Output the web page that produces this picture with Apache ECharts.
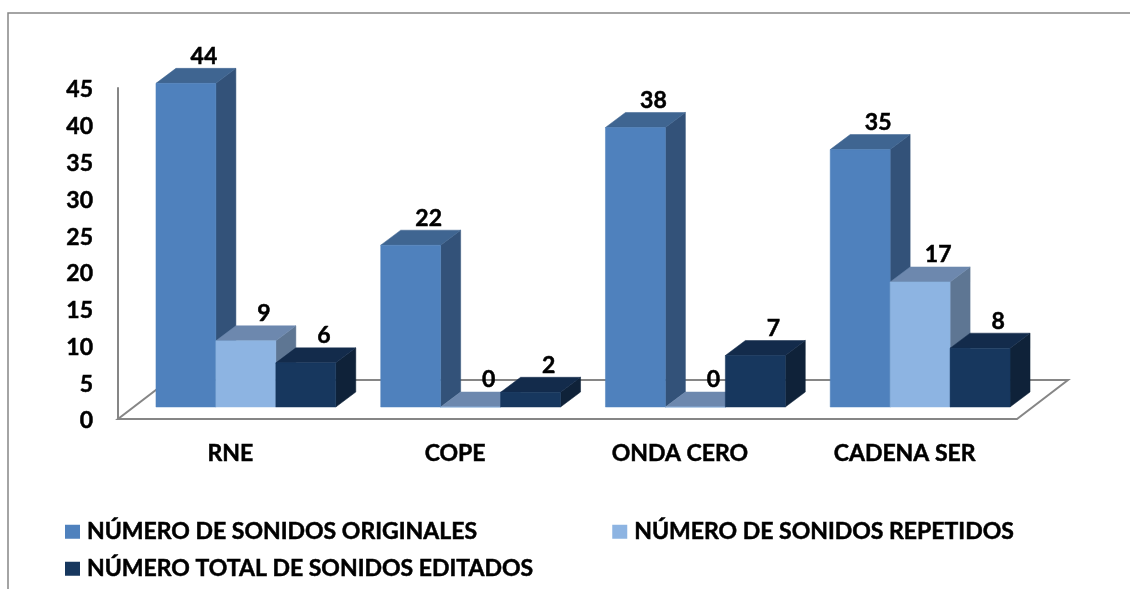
<!DOCTYPE html>
<html>
<head>
<meta charset="utf-8">
<style>
  html, body { margin: 0; padding: 0; background: #fff; }
  #chart { width: 1130px; height: 589px; }
</style>
<script src="https://cdn.jsdelivr.net/npm/echarts@6/dist/echarts.min.js"></script>
</head>
<body>
<div id="chart"></div>
<script>
const categories = ['RNE', 'COPE', 'ONDA CERO', 'CADENA SER']
const yTicks = { min: 0, max: 45, interval: 5 }

const originales = [44, 22, 38, 35]
const repetidos = [9, 0, 0, 17]
const editados = [6, 2, 7, 8]

const seriesNames = [
  'NÚMERO DE SONIDOS ORIGINALES',
  'NÚMERO DE SONIDOS REPETIDOS',
  'NÚMERO TOTAL DE SONIDOS EDITADOS'
]

// front, top, side
const shades = [
  ['#4F81BD', '#3F6591', '#335279'],
  ['#8DB4E2', '#6D88AE', '#5E7693'],
  ['#17375E', '#132B4B', '#0F2239']
]

const font = 'Lato, "Noto Sans", sans-serif'
const grey = '#868686'

// 3d look: bars sit inside the floor, floor goes back from the axis line
const floorDx = 51
const floorDy = 39
const frontDx = 15.5
const frontDy = 12
const depthDx = 20
const depthDy = 15
const barRatio = 0.2667

const poly = (points, fill) => ({
  type: 'polygon',
  shape: { points },
  style: { fill, stroke: fill, lineWidth: 0.5 }
})

const makeBar = (index) => (params, api) => {
  const cat = api.value(0)
  const val = api.value(1)
  const width = api.size([1, 0])[0] * barRatio
  const center = api.coord([cat, 0])
  const top = api.coord([cat, val])
  const x0 = center[0] + frontDx + (index - 1.5) * width
  const x1 = x0 + width
  const y0 = center[1] - frontDy
  const y1 = top[1] - frontDy
  const [front, roof, side] = shades[index]

  return {
    type: 'group',
    children: [
      poly([[x1, y0], [x1 + depthDx, y0 - depthDy], [x1 + depthDx, y1 - depthDy], [x1, y1]], side),
      poly([[x0, y1], [x1, y1], [x1 + depthDx, y1 - depthDy], [x0 + depthDx, y1 - depthDy]], roof),
      poly([[x0, y0], [x1, y0], [x1, y1], [x0, y1]], front),
      {
        type: 'text',
        z2: 10,
        style: {
          x: x0 + width / 2 + 18,
          y: y1 - depthDy - 12,
          text: String(val),
          align: 'center',
          verticalAlign: 'middle',
          font: 'bold 23px ' + font,
          fill: '#000',
          stroke: '#000',
          lineWidth: 0.5
        }
      }
    ]
  }
}

const renderFloor = (params) => {
  const g = params.coordSys
  const b = g.y + g.height
  const r = g.x + g.width
  return {
    type: 'polygon',
    shape: {
      points: [[g.x, b], [r, b], [r + floorDx, b - floorDy], [g.x + floorDx, b - floorDy]]
    },
    style: { fill: '#fff', stroke: grey, lineWidth: 2 }
  }
}

const barSeries = (name, values, index) => ({
  name,
  type: 'custom',
  renderItem: makeBar(index),
  encode: { x: 0, y: 1 },
  itemStyle: { color: shades[index][0] },
  data: values.map((v, i) => [i, v]),
  z: 3
})

const boldText = {
  fontSize: 23,
  fontWeight: 'bold',
  color: '#000',
  fontFamily: font,
  textBorderColor: '#000',
  textBorderWidth: 0.5
}
const legendText = { ...boldText, padding: [0, 0, 0, 2] }

const chart = echarts.init(document.getElementById('chart'))

const option = {
  animation: false,
  backgroundColor: '#fff',
  textStyle: { fontFamily: font },
  grid: { left: 118, right: 113, top: 88, bottom: 170 },
  graphic: [
    {
      type: 'polyline',
      shape: { points: [[8, 589], [8, 13], [1130, 13]] },
      style: { stroke: grey, lineWidth: 1.5, fill: null }
    }
  ],
  legend: [
    {
      data: seriesNames.slice(0, 2),
      left: 65,
      top: 520,
      padding: 0,
      itemWidth: 15,
      itemHeight: 14,
      itemGap: 135,
      icon: 'rect',
      textStyle: legendText
    },
    {
      data: seriesNames.slice(2),
      left: 65,
      top: 557,
      padding: 0,
      itemWidth: 15,
      itemHeight: 14,
      icon: 'rect',
      textStyle: legendText
    }
  ],
  xAxis: {
    type: 'category',
    data: categories,
    axisTick: { show: false },
    axisLine: { show: false },
    axisLabel: { ...boldText, margin: 23 }
  },
  yAxis: {
    type: 'value',
    min: yTicks.min,
    max: yTicks.max,
    interval: yTicks.interval,
    splitLine: { show: false },
    axisTick: { show: false },
    axisLine: { show: true, lineStyle: { color: grey, width: 2 } },
    // nudges the numbers down a little from the tick position
    axisLabel: { ...boldText, margin: 25, verticalAlign: 'top', lineHeight: 4 }
  },
  series: [
    {
      name: 'floor',
      type: 'custom',
      renderItem: renderFloor,
      encode: { x: 0, y: 1 },
      data: [[0, 0]],
      silent: true,
      z: 1
    },
    barSeries(seriesNames[0], originales, 0),
    barSeries(seriesNames[1], repetidos, 1),
    barSeries(seriesNames[2], editados, 2)
  ]
}

chart.setOption(option)
</script>
</body>
</html>
